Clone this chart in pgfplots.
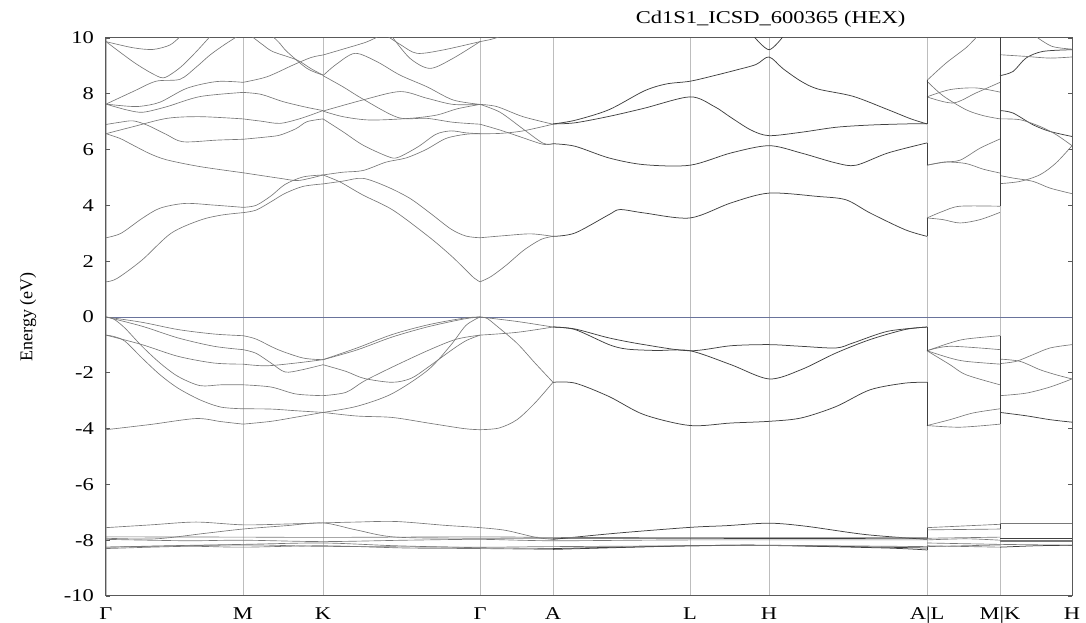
\documentclass[border=0pt]{standalone}
\usepackage{fontspec}
\setmainfont{Liberation Serif}
\newfontfamily\widefont{Liberation Serif}[FakeStretch=1.25]
\usepackage{pgfplots}
\pgfplotsset{compat=1.18}
\definecolor{bandc}{gray}{0.47}
\definecolor{bandd}{gray}{0.25}
\definecolor{gridc}{gray}{0.74}
\definecolor{zeroc}{RGB}{105,115,155}
\definecolor{framec}{gray}{0.35}
\pgfplotsset{
  bnd/.style={smooth, draw=bandc, line width=0.65pt, mark=none},
  bdk/.style={smooth, draw=bandd, line width=0.75pt, mark=none},
  jmp/.style={sharp plot, draw=bandd, line width=0.75pt, mark=none},
}
\begin{document}
\begin{tikzpicture}
\begin{axis}[
  scale only axis, width=966pt, height=558pt,
  xmin=0, xmax=966, ymin=-10, ymax=10,
  xtick={0,137,217,374,447,584,663,821,894,966},
  xticklabels={Γ,M,K,Γ,A,L,H,{A|L},{M|K},H},
  ytick={-10,-8,-6,-4,-2,0,2,4,6,8,10},
  yticklabels={-10,-8,-6,-4,-2,0,2,4,6,8,10},
  xmajorgrids, major x grid style={draw=gridc, line width=0.8pt},
  xtick style={draw=none},
  ytick style={draw=framec, line width=0.6pt},
  tick align=inside, major tick length=4pt, ytick pos=both,
  axis line style={draw=framec, line width=1pt},
  xticklabel style={font=\widefont\fontsize{18}{20}\selectfont, anchor=base, yshift=-24pt, inner sep=0pt},
  yticklabel style={font=\widefont\fontsize{18}{20}\selectfont, anchor=east, inner sep=0pt, xshift=-12pt},
  clip=true,
]
\coordinate (bl) at (rel axis cs:0,0);
\coordinate (tr) at (rel axis cs:1,1);
\coordinate (tt) at (rel axis cs:0.688,1);
\coordinate (yl) at (rel axis cs:0,0.5);

\addplot[draw=zeroc, line width=0.7pt, mark=none] coordinates {(0,0) (966,0)};

% ---------------- Gamma -> M
\addplot[bnd] coordinates {(0,1.26) (11,1.38) (36,2.04) (65,3.0) (94,3.47) (115,3.65) (137,3.74)};
\addplot[bnd] coordinates {(0,2.84) (15,3.0) (36,3.53) (54,3.9) (79,4.07) (108,4.01) (137,3.93)};
\addplot[bnd] coordinates {(0,6.57) (14,6.4) (27,6.16) (44,5.85) (61,5.63) (94,5.39) (137,5.17)};
\addplot[bnd] coordinates {(0,6.57) (27,6.82) (61,7.12) (94,7.18) (137,7.1)};
\addplot[bnd] coordinates {(0,6.9) (14,6.98) (27,7.03) (41,6.88) (60,6.55) (77,6.28) (111,6.34) (137,6.37)};
\addplot[bnd] coordinates {(0,7.63) (21,7.42) (37,7.34) (61,7.54) (94,7.9) (137,8.05)};
\addplot[bnd] coordinates {(0,7.63) (20,7.56) (34,7.55) (54,7.7) (81,8.2) (111,8.44) (137,8.41)};
\addplot[bnd] coordinates {(0,7.63) (27,8.08) (50,8.45) (74,8.52) (90,8.95) (104,9.39) (118,9.75) (131,10.05)};
\addplot[bnd] coordinates {(0,9.87) (27,9.15) (45,8.75) (57,8.57) (67,8.75) (77,9.03) (90,9.5) (104,10.05)};
\addplot[bnd] coordinates {(0,9.87) (27,9.65) (47,9.59) (64,9.75) (74,10.05)};
\addplot[bnd] coordinates {(0,0) (36,-0.19) (72,-0.45) (108,-0.61) (137,-0.67)};
\addplot[bnd] coordinates {(0,0) (36,-0.33) (72,-0.75) (108,-1.05) (137,-1.17)};
\addplot[bnd] coordinates {(0,0) (8,-0.08) (19,-0.4) (36,-1.05) (54,-1.65) (72,-2.13) (94,-2.46) (115,-2.43) (137,-2.43)};
\addplot[bnd] coordinates {(0,-0.65) (8,-0.7) (19,-0.87) (36,-1.47) (54,-2.07) (72,-2.55) (94,-2.97) (115,-3.23) (137,-3.29)};
\addplot[bnd] coordinates {(0,-0.65) (36,-0.99) (72,-1.41) (108,-1.65) (137,-1.69)};
\addplot[bnd] coordinates {(0,-4.04) (45,-3.85) (90,-3.64) (115,-3.75) (137,-3.84)};

% ---------------- M -> K
\addplot[bnd] coordinates {(137,3.74) (150,3.83) (165,4.13) (179,4.43) (197,4.68) (217,4.77)};
\addplot[bnd] coordinates {(137,3.93) (150,4.0) (165,4.34) (179,4.75) (197,5.02) (217,5.09)};
\addplot[bnd] coordinates {(137,5.17) (174,4.97) (191,4.89) (205,4.98) (217,5.09)};
\addplot[bnd] coordinates {(137,6.37) (160,6.45) (174,6.52) (190,6.75) (201,7.0) (217,7.1)};
\addplot[bnd] coordinates {(137,7.1) (155,7.02) (174,6.94) (195,7.12) (217,7.4)};
\addplot[bnd] coordinates {(137,8.05) (155,7.98) (177,7.72) (200,7.52) (217,7.4)};
\addplot[bnd] coordinates {(137,8.41) (161,8.61) (187,9.03) (205,9.3) (217,9.39)};
\addplot[bnd] coordinates {(146,10.05) (157,9.75) (167,9.51) (191,9.21) (205,8.9) (217,8.67)};
\addplot[bnd] coordinates {(167,10.05) (174,9.8) (181,9.51) (201,8.91) (217,8.67)};
\addplot[bnd] coordinates {(137,-0.67) (150,-0.79) (172,-1.17) (197,-1.47) (217,-1.53)};
\addplot[bnd] coordinates {(137,-1.17) (150,-1.3) (165,-1.65) (179,-1.97) (195,-1.9) (217,-1.71)};
\addplot[bnd] coordinates {(137,-1.69) (160,-1.75) (190,-1.65) (217,-1.53)};
\addplot[bnd] coordinates {(137,-2.43) (165,-2.51) (190,-2.76) (217,-2.82)};
\addplot[bnd] coordinates {(137,-3.29) (165,-3.3) (190,-3.36) (217,-3.42)};
\addplot[bnd] coordinates {(137,-3.84) (165,-3.74) (190,-3.59) (217,-3.42)};

% ---------------- K -> Gamma
\addplot[bnd] coordinates {(217,5.09) (234,4.84) (257,4.37) (287,3.83) (323,2.87) (345,2.2) (358,1.75) (368,1.4) (374,1.26)};
\addplot[bnd] coordinates {(217,4.77) (237,4.87) (257,4.97) (281,4.67) (304,4.25) (325,3.7) (345,3.15) (360,2.9) (374,2.84)};
\addplot[bnd] coordinates {(217,5.09) (237,5.19) (257,5.25) (280,5.55) (300,5.7) (320,6.0) (340,6.4) (360,6.55) (374,6.57)};
\addplot[bnd] coordinates {(217,7.1) (237,6.64) (257,6.16) (282,5.75) (292,5.72) (312,6.1) (330,6.55) (345,6.67) (360,6.6) (374,6.57)};
\addplot[bnd] coordinates {(217,7.38) (237,7.18) (264,7.06) (304,7.12) (331,7.24) (351,7.46) (374,7.62)};
\addplot[bnd] coordinates {(217,8.65) (237,8.25) (257,7.81) (292,7.15) (321,7.12) (347,6.98) (374,6.91)};
\addplot[bnd] coordinates {(217,7.38) (257,7.78) (294,8.08) (321,7.84) (347,7.62) (374,7.62)};
\addplot[bnd] coordinates {(217,8.65) (230,9.05) (249,9.45) (271,9.15) (294,8.67) (321,8.25) (347,7.78) (374,7.62)};
\addplot[bnd] coordinates {(217,9.39) (237,9.6) (260,9.85) (272,10.05)};
\addplot[bnd] coordinates {(282,10.05) (295,9.75) (311,9.45) (337,9.57) (374,9.87)};
\addplot[bnd] coordinates {(286,10.05) (304,9.27) (324,8.91) (347,9.27) (374,9.87)};
\addplot[bnd] coordinates {(217,-1.53) (251,-1.11) (286,-0.63) (322,-0.28) (358,-0.04) (374,0)};
\addplot[bnd] coordinates {(217,-1.53) (251,-1.18) (286,-0.72) (322,-0.35) (358,-0.07) (374,0)};
\addplot[bnd] coordinates {(217,-1.71) (240,-1.95) (258,-2.2) (286,-2.34) (305,-2.2) (322,-1.8) (345,-1.2) (360,-0.85) (374,-0.65)};
\addplot[bnd] coordinates {(217,-2.82) (240,-2.7) (258,-2.3) (286,-1.8) (322,-1.2) (350,-0.8) (374,-0.65)};
\addplot[bnd] coordinates {(217,-3.42) (251,-3.2) (286,-2.75) (322,-1.9) (345,-1.0) (360,-0.3) (374,0)};
\addplot[bnd] coordinates {(217,-3.42) (251,-3.55) (286,-3.6) (322,-3.8) (358,-4.0) (374,-4.04)};

% ---------------- Gamma -> A
\addplot[bnd] coordinates {(374,1.26) (385,1.45) (400,1.85) (418,2.4) (435,2.78) (447,2.89)};
\addplot[bnd] coordinates {(374,2.84) (400,2.92) (425,2.98) (447,2.89)};
\addplot[bnd] coordinates {(374,7.62) (391,7.54) (417,7.18) (447,6.91)};
\addplot[bnd] coordinates {(374,7.62) (394,7.34) (417,6.74) (437,6.23) (447,6.21)};
\addplot[bnd] coordinates {(374,6.91) (394,6.7) (414,6.46) (437,6.19) (447,6.21)};
\addplot[bnd] coordinates {(374,6.57) (394,6.58) (417,6.67) (447,6.91)};
\addplot[bnd] coordinates {(374,9.87) (385,9.95) (394,10.05)};
\addplot[bnd] coordinates {(374,0) (411,-0.16) (447,-0.36)};
\addplot[bnd] coordinates {(374,-0.65) (411,-0.55) (447,-0.36)};
\addplot[bnd] coordinates {(374,0) (381,-0.05) (390,-0.3) (411,-0.94) (429,-1.65) (447,-2.34)};
\addplot[bnd] coordinates {(374,-4.04) (393,-3.98) (411,-3.68) (429,-3.08) (447,-2.34)};

% ---------------- A -> L -> H -> A
\addplot[bdk] coordinates {(447,2.89) (469,3.01) (503,3.67) (514,3.85) (538,3.73) (584,3.55) (625,4.09) (663,4.44) (712,4.32) (740,4.2) (764,3.73) (799,3.13) (821,2.89)};
\addplot[bdk] coordinates {(447,6.21) (469,6.12) (503,5.7) (538,5.46) (584,5.44) (625,5.88) (663,6.14) (695,5.88) (730,5.52) (750,5.44) (782,5.88) (821,6.24)};
\addplot[bdk] coordinates {(447,6.92) (469,7.05) (503,7.43) (538,8.1) (560,8.35) (584,8.45) (608,8.65) (630,8.85) (650,9.05) (663,9.32) (677,8.9) (695,8.45) (712,8.17) (747,7.91) (782,7.43) (805,7.1) (821,6.92)};
\addplot[bdk] coordinates {(447,6.92) (469,6.96) (503,7.19) (538,7.48) (584,7.89) (608,7.55) (625,7.15) (645,6.7) (663,6.5) (695,6.62) (730,6.8) (764,6.88) (799,6.92) (821,6.93)};
\addplot[bdk] coordinates {(648,10.05) (663,9.58) (677,10.05)};
\addplot[bdk] coordinates {(447,-0.36) (469,-0.45) (503,-0.99) (521,-1.15) (550,-1.2) (584,-1.21) (625,-1.71) (663,-2.22) (695,-1.89) (730,-1.29) (764,-0.81) (799,-0.45) (821,-0.36)};
\addplot[bdk] coordinates {(447,-0.36) (469,-0.43) (503,-0.75) (538,-0.99) (584,-1.21) (625,-1.03) (663,-0.99) (695,-1.05) (730,-1.11) (747,-0.93) (782,-0.51) (821,-0.36)};
\addplot[bdk] coordinates {(447,-2.34) (469,-2.37) (503,-2.85) (538,-3.5) (584,-3.89) (625,-3.8) (663,-3.74) (695,-3.62) (730,-3.21) (764,-2.61) (799,-2.37) (821,-2.34)};

% ---------------- L -> M
\addplot[bnd] coordinates {(821,3.55) (837,3.79) (854,3.97) (894,3.97)};
\addplot[bnd] coordinates {(821,3.55) (837,3.49) (854,3.37) (874,3.49) (894,3.75)};
\addplot[bnd] coordinates {(821,5.44) (837,5.55) (854,5.62) (874,6.05) (894,6.38)};
\addplot[bnd] coordinates {(821,5.44) (840,5.55) (860,5.5) (877,5.3) (894,5.16)};
\addplot[bnd] coordinates {(821,8.48) (840,9.1) (860,9.65) (871,10.05)};
\addplot[bnd] coordinates {(821,8.45) (837,7.93) (860,7.43) (877,7.22) (894,7.1)};
\addplot[bnd] coordinates {(821,7.89) (844,8.15) (870,8.21) (894,8.06)};
\addplot[bnd] coordinates {(821,7.89) (847,7.67) (870,8.03) (894,8.41)};
\addplot[bnd] coordinates {(821,-1.21) (844,-0.93) (860,-0.79) (894,-0.67)};
\addplot[bnd] coordinates {(821,-1.21) (844,-1.05) (894,-1.17)};
\addplot[bnd] coordinates {(821,-1.21) (844,-1.47) (860,-1.59) (894,-1.69)};
\addplot[bnd] coordinates {(821,-1.21) (844,-1.71) (860,-2.07) (894,-2.43)};
\addplot[bnd] coordinates {(821,-3.89) (844,-3.68) (867,-3.44) (894,-3.29)};
\addplot[bnd] coordinates {(821,-3.89) (854,-3.95) (894,-3.84)};

% ---------------- K -> H
\addplot[bnd] coordinates {(894,5.07) (907,4.98) (927,4.86) (944,4.62) (966,4.42)};
\addplot[bnd] coordinates {(894,4.78) (914,4.86) (934,5.1) (950,5.52) (966,6.14)};
\addplot[bdk] coordinates {(894,7.4) (907,7.31) (927,6.89) (944,6.65) (966,6.47)};
\addplot[bnd] coordinates {(894,7.1) (914,7.07) (934,6.83) (950,6.54) (966,6.14)};
\addplot[bdk] coordinates {(894,8.65) (907,8.8) (920,9.28) (937,9.52) (966,9.58)};
\addplot[bnd] coordinates {(894,9.4) (920,9.34) (944,9.28) (966,9.32)};
\addplot[bnd] coordinates {(930,10.05) (946,9.7) (966,9.6)};
\addplot[bnd] coordinates {(894,-1.67) (910,-1.59) (927,-1.35) (944,-1.11) (966,-0.99)};
\addplot[bnd] coordinates {(894,-1.51) (914,-1.59) (934,-1.89) (950,-2.07) (966,-2.22)};
\addplot[bnd] coordinates {(894,-2.82) (920,-2.73) (944,-2.51) (966,-2.22)};
\addplot[bdk] coordinates {(894,-3.42) (920,-3.54) (944,-3.68) (966,-3.77)};

% ---------------- jumps at A|L and M|K
\addplot[jmp] coordinates {(821,2.89) (821,3.55)};
\addplot[jmp] coordinates {(821,5.44) (821,6.24)};
\addplot[jmp] coordinates {(821,6.92) (821,8.48)};
\addplot[jmp] coordinates {(821,-1.21) (821,-0.36)};
\addplot[jmp] coordinates {(821,-3.89) (821,-2.34)};
\addplot[jmp] coordinates {(821,-7.97) (821,-7.55)};
\addplot[jmp] coordinates {(821,-8.35) (821,-8.2)};
\addplot[jmp] coordinates {(894,3.97) (894,10.05)};
\addplot[jmp] coordinates {(894,-0.67) (894,-3.84)};
\addplot[jmp] coordinates {(894,-7.6) (894,-7.38)};

% ---------------- Cd 4d bands
\addplot[bnd] coordinates {(0,-7.55) (45,-7.45) (90,-7.35) (137,-7.45) (180,-7.42) (217,-7.38) (250,-7.35) (290,-7.33) (340,-7.47) (374,-7.55) (400,-7.65) (430,-7.9) (447,-7.97)};
\addplot[bdk] coordinates {(447,-7.97) (510,-7.75) (584,-7.54) (620,-7.48) (663,-7.39) (700,-7.5) (760,-7.8) (821,-7.97)};
\addplot[bnd] coordinates {(0,-7.93) (50,-7.95) (100,-7.75) (137,-7.6) (180,-7.48) (217,-7.38) (250,-7.63) (290,-7.89) (374,-7.93) (447,-7.93)};
\addplot[bdk] coordinates {(447,-7.93) (584,-7.93) (663,-7.94) (821,-7.93)};
\addplot[bnd] coordinates {(0,-7.88) (137,-7.89) (217,-7.9) (374,-7.88) (447,-7.9) (584,-7.9) (821,-7.9)};
\addplot[bnd] coordinates {(0,-7.97) (80,-8.02) (137,-8.0) (217,-8.05) (300,-8.0) (374,-7.97) (447,-8.02) (584,-7.99) (821,-7.99)};
\addplot[bnd] coordinates {(0,-8.25) (60,-8.2) (137,-8.15) (217,-8.1) (290,-8.2) (374,-8.27) (447,-8.3)};
\addplot[bdk] coordinates {(447,-8.3) (584,-8.2) (663,-8.18) (821,-8.28)};
\addplot[bnd] coordinates {(0,-8.3) (80,-8.22) (137,-8.25) (217,-8.2) (300,-8.28) (374,-8.3) (447,-8.33)};
\addplot[bdk] coordinates {(447,-8.33) (584,-8.2) (663,-8.19) (780,-8.28) (821,-8.35)};
\addplot[bnd] coordinates {(0,-8.25) (137,-8.17) (217,-8.22) (374,-8.25) (447,-8.23) (663,-8.19) (821,-8.23)};
\addplot[bnd] coordinates {(821,-7.55) (894,-7.43)};
\addplot[bnd] coordinates {(821,-7.63) (894,-7.6)};
\addplot[bnd] coordinates {(821,-7.93) (894,-7.89)};
\addplot[bnd] coordinates {(821,-7.99) (860,-7.95) (894,-8.0)};
\addplot[bnd] coordinates {(821,-8.1) (894,-8.15)};
\addplot[bnd] coordinates {(821,-8.2) (894,-8.25)};
\addplot[bnd] coordinates {(821,-8.23) (894,-8.17)};
\addplot[bnd] coordinates {(894,-7.38) (966,-7.38)};
\addplot[bdk] coordinates {(894,-7.93) (966,-7.93)};
\addplot[bnd] coordinates {(894,-7.99) (966,-7.99)};
\addplot[bnd] coordinates {(894,-8.05) (966,-8.05)};
\addplot[bnd] coordinates {(894,-8.15) (966,-8.18)};
\addplot[bdk] coordinates {(894,-8.25) (930,-8.2) (966,-8.18)};
\end{axis}
\node[font=\widefont\fontsize{18}{20}\selectfont, anchor=base] at ([yshift=14pt]tt) {Cd1S1\_ICSD\_600365 (HEX)};
\node[rotate=90, font=\fontsize{18}{20}\selectfont] at ([xshift=-78pt]yl) {Energy (eV)};
\pgfresetboundingbox
\path ([shift={(-106pt,-27pt)}]bl) rectangle ([shift={(14pt,38pt)}]tr);
\end{tikzpicture}
\end{document}
